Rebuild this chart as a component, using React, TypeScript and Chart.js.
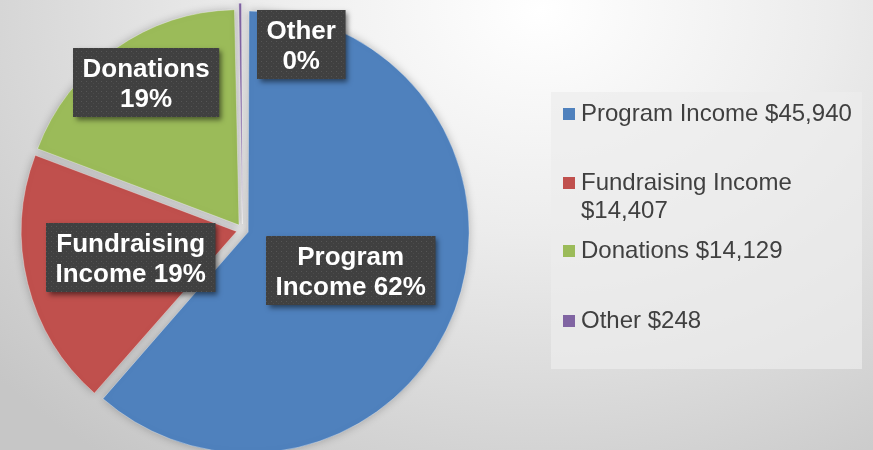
import React, { useEffect, useRef } from "react";
import { Chart, registerables } from "chart.js";

Chart.register(...registerables);

// ---- data ----
const categories = ["Program Income", "Fundraising Income", "Donations", "Other"];
const amounts = [45940, 14407, 14129, 248];
const percentLabels = ["62%", "19%", "19%", "0%"];
const sliceColors = ["#4F81BD", "#C0504D", "#9BBB59", "#8064A2"];

// ---- layout (not data) ----
const W = 873;
const H = 450;
// label box centres, relative to pie centre, in units of the pie radius
const labelAnchors: [number, number][] = [
  [0.502, 0.189],
  [-0.521, 0.13],
  [-0.447, -0.684],
  [0.273, -0.865],
];
const legendTops = [99, 168, 236, 306];

function labelLines(i: number): string[] {
  const words = categories[i].split(" ");
  if (words.length > 1) {
    return [words[0], words.slice(1).join(" ") + " " + percentLabels[i]];
  }
  return [categories[i], percentLabels[i]];
}

function makePattern(ctx: CanvasRenderingContext2D): CanvasPattern | string {
  const c = document.createElement("canvas");
  c.width = 5;
  c.height = 5;
  const p = c.getContext("2d");
  if (!p) return "#404040";
  p.fillStyle = "#404040";
  p.fillRect(0, 0, 5, 5);
  p.fillStyle = "#555555";
  p.fillRect(1, 1, 1, 1);
  p.fillStyle = "#4b4b4b";
  p.fillRect(3, 3, 1, 1);
  return ctx.createPattern(c, "repeat") || "#404040";
}

const shadowPlugin = {
  id: "pieShadow",
  beforeDatasetsDraw(chart: any) {
    const ctx = chart.ctx;
    ctx.save();
    ctx.shadowColor = "rgba(0,0,0,0.25)";
    ctx.shadowBlur = 8;
  },
  afterDatasetsDraw(chart: any) {
    chart.ctx.restore();
  },
};

const boxLabelPlugin = {
  id: "boxLabels",
  afterDatasetsDraw(chart: any) {
    const meta = chart.getDatasetMeta(0);
    const ctx: CanvasRenderingContext2D = chart.ctx;
    const pattern = makePattern(ctx);
    ctx.save();
    ctx.font = "bold 26px 'Liberation Sans', Arial, sans-serif";
    meta.data.forEach((arc: any, i: number) => {
      const lines = labelLines(i);
      const w = Math.max(...lines.map((l) => ctx.measureText(l).width)) + 19;
      const h = 69;
      const r = arc.outerRadius;
      const [fx, fy] = labelAnchors[i];
      const x = Math.round(arc.x + fx * r - w / 2);
      const y = Math.round(arc.y + fy * r - h / 2);
      ctx.save();
      ctx.shadowColor = "rgba(0,0,0,0.5)";
      ctx.shadowBlur = 5;
      ctx.shadowOffsetX = 3;
      ctx.shadowOffsetY = 3;
      ctx.fillStyle = "#404040";
      ctx.fillRect(x, y, w, h);
      ctx.restore();
      ctx.fillStyle = pattern as any;
      ctx.fillRect(x, y, w, h);
      ctx.fillStyle = "#ffffff";
      ctx.textAlign = "center";
      ctx.textBaseline = "alphabetic";
      lines.forEach((l, j) => ctx.fillText(l, x + w / 2, y + 29 + j * 30));
    });
    ctx.restore();
  },
};

export default function App() {
  const canvasRef = useRef<HTMLCanvasElement | null>(null);

  useEffect(() => {
    if (!canvasRef.current) return;
    const chart = new Chart(canvasRef.current, {
      type: "pie",
      data: {
        labels: categories,
        datasets: [
          {
            data: amounts,
            backgroundColor: sliceColors,
            borderColor: "rgba(255,255,255,0.35)",
            borderWidth: 1,
            offset: 24,
            clip: false,
          } as any,
        ],
      },
      options: {
        animation: false,
        responsive: false,
        radius: 215,
        layout: { padding: { left: 0, right: 388, top: 10, bottom: 0 } },
        plugins: {
          legend: { display: false },
          tooltip: { enabled: false },
        },
      } as any,
      plugins: [shadowPlugin, boxLabelPlugin],
    });
    return () => chart.destroy();
  }, []);

  return (
    <div
      style={{
        position: "fixed",
        left: 0,
        top: 0,
        width: W,
        height: H,
        overflow: "hidden",
        background:
          "radial-gradient(ellipse 720px 560px at 540px 10px, #ffffff 0%, #ececec 40%, #d6d6d6 75%, #c6c6c6 100%)",
      }}
    >
      <canvas
        ref={canvasRef}
        width={W}
        height={H}
        style={{ position: "absolute", left: 0, top: 0 }}
      />
      <div
        style={{
          position: "absolute",
          left: 551,
          top: 92,
          width: 311,
          height: 277,
          background: "rgba(236,236,236,0.7)",
        }}
      >
        {categories.map((c, i) => (
          <div
            key={c}
            style={{
              position: "absolute",
              left: 30,
              top: legendTops[i] - 92,
              width: 281,
              font: "24px 'Liberation Sans', Arial, sans-serif",
              lineHeight: "28px",
              color: "#404040",
            }}
          >
            <span
              style={{
                position: "absolute",
                left: -18,
                top: 9,
                width: 12,
                height: 12,
                background: sliceColors[i],
              }}
            />
            {`${c} $${amounts[i].toLocaleString("en-US")}`}
          </div>
        ))}
      </div>
    </div>
  );
}
